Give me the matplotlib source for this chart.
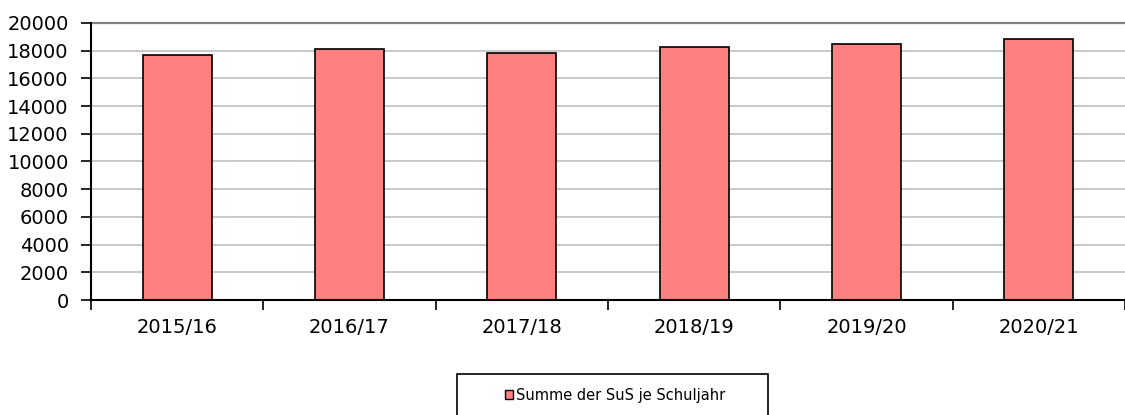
import matplotlib.pyplot as plt
from matplotlib.patches import Rectangle, Patch

# data
years = ['2015/16', '2016/17', '2017/18', '2018/19', '2019/20', '2020/21']
sus_sum = [17690, 18140, 17850, 18290, 18460, 18840]
yticks = list(range(0, 20001, 2000))

fig = plt.figure(figsize=(11.25, 4.15), dpi=100)
ax = fig.add_axes([91 / 1125, 1 - 300 / 415, 1 - 91 / 1125, (300 - 23) / 415])

x = range(len(years))
ax.bar(x, sus_sum, width=0.4, color='#ff8080', edgecolor='black',
       linewidth=1.2, zorder=3)

ax.set_xlim(-0.5, len(years) - 0.5)
ax.set_ylim(0, 20000)
ax.set_yticks(yticks)
ax.set_xticks(x)
ax.set_xticklabels(years)
# category boundary ticks like the original
ax.set_xticks([i - 0.5 for i in range(len(years) + 1)], minor=True)
ax.tick_params(axis='x', which='major', length=0, pad=13, labelsize=14)
ax.tick_params(axis='x', which='minor', length=7, width=1.2, color='black')
ax.tick_params(axis='y', length=7, width=1.2, pad=9, labelsize=14)

for v in yticks[1:-1]:
    ax.axhline(v, color='#c0c0c0', linewidth=1.2, zorder=1)
ax.axhline(20000, color='#808080', linewidth=1.6, zorder=1, clip_on=False)

for s in ['top', 'right']:
    ax.spines[s].set_visible(False)
ax.spines['left'].set_linewidth(1.5)
ax.spines['bottom'].set_linewidth(1.5)
ax.spines['bottom'].set_zorder(4)

# legend box runs off the bottom of the image
fig.patches.append(Rectangle((457 / 1125, -0.05), (768 - 457) / 1125,
                             0.05 + 1 - 374 / 415, transform=fig.transFigure,
                             fill=False, edgecolor='black', linewidth=1.2))
handle = Patch(facecolor='#ff8080', edgecolor='black', linewidth=1.0)
fig.legend([handle], ['Summe der SuS je Schuljahr'], loc='center',
           bbox_to_anchor=(615 / 1125, 1 - 395 / 415), frameon=False,
           fontsize=10.5, handlelength=0.6, handleheight=0.6,
           handletextpad=0.2)

fig.savefig('out.png', dpi=100)
